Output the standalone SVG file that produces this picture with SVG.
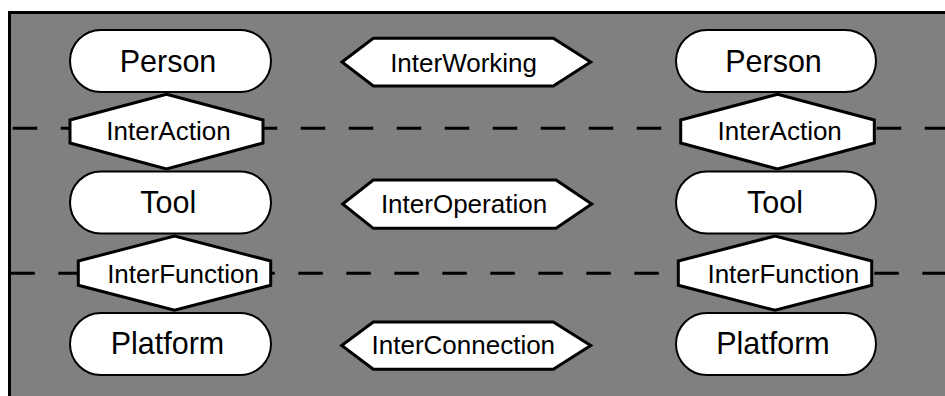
<svg xmlns="http://www.w3.org/2000/svg" width="945" height="396" viewBox="0 0 945 396">
<style>
.bg{fill:#808080;stroke:#000;stroke-width:3}
.pill{fill:#fff;stroke:#000;stroke-width:2}
.hex{fill:#fff;stroke:#000;stroke-width:3;stroke-linejoin:miter}
.sep{stroke:#000;stroke-width:3;stroke-dasharray:24.5 23.5;fill:none}
.big{font-family:"Liberation Sans",Arial,sans-serif;font-size:30.5px;text-anchor:middle;fill:#000}
.small{font-family:"Liberation Sans",Arial,sans-serif;font-size:26px;text-anchor:middle;fill:#000}
</style>
<rect class="bg" x="9.5" y="12.5" width="945" height="400"/>
<g id="connectors">
<line class="sep" x1="12.7" y1="128.3" x2="945" y2="128.3"/>
<line class="sep" x1="10.3" y1="273.3" x2="945" y2="273.3"/>
</g>
<g id="person-left"><rect class="pill" x="70" y="30" width="201" height="62" rx="31"/><text class="big" x="168" y="71.7">Person</text></g>
<g id="person-right"><rect class="pill" x="676" y="30" width="200" height="62" rx="31"/><text class="big" x="773.5" y="71.7">Person</text></g>
<g id="tool-left"><rect class="pill" x="70" y="171.5" width="201" height="62" rx="31"/><text class="big" x="168.3" y="212.7">Tool</text></g>
<g id="tool-right"><rect class="pill" x="676" y="171.5" width="200" height="62" rx="31"/><text class="big" x="775" y="212.7">Tool</text></g>
<g id="platform-left"><rect class="pill" x="70" y="313" width="201" height="62" rx="31"/><text class="big" x="167.5" y="353.7">Platform</text></g>
<g id="platform-right"><rect class="pill" x="676" y="313" width="200" height="62" rx="31"/><text class="big" x="773" y="353.7">Platform</text></g>
<g id="interaction-left"><polygon class="hex" points="166.5,94.3 263,120 263,143 166.5,169 70,143 70,120"/><text class="small" x="168.5" y="140">InterAction</text></g>
<g id="interaction-right"><polygon class="hex" points="777.5,94.3 874.3,120 874.3,143 777.5,169 680.7,143 680.7,120"/><text class="small" x="779.7" y="140">InterAction</text></g>
<g id="interfunction-left"><polygon class="hex" points="174.5,236 270.7,261 270.7,285.3 174.5,310.3 78.3,285.3 78.3,261"/><text class="small" x="183" y="283.3">InterFunction</text></g>
<g id="interfunction-right"><polygon class="hex" points="775,236 871.7,261 871.7,285.3 775,310.3 678.3,285.3 678.3,261"/><text class="small" x="783.3" y="283.3">InterFunction</text></g>
<g id="interworking"><polygon class="hex" points="342,62 373.3,38.3 553.3,38.3 590.7,62 553.3,86 373.3,86"/><text class="small" x="463.6" y="71.7">InterWorking</text></g>
<g id="interoperation"><polygon class="hex" points="342.7,204 373.3,180 556,180 591.7,204 556,228.3 373.3,228.3"/><text class="small" x="464" y="212.7">InterOperation</text></g>
<g id="interconnection"><polygon class="hex" points="341.7,345.5 373.3,322 553.3,322 590.7,345.5 553.3,369.3 373.3,369.3"/><text class="small" x="463.3" y="353.7">InterConnection</text></g>
</svg>
